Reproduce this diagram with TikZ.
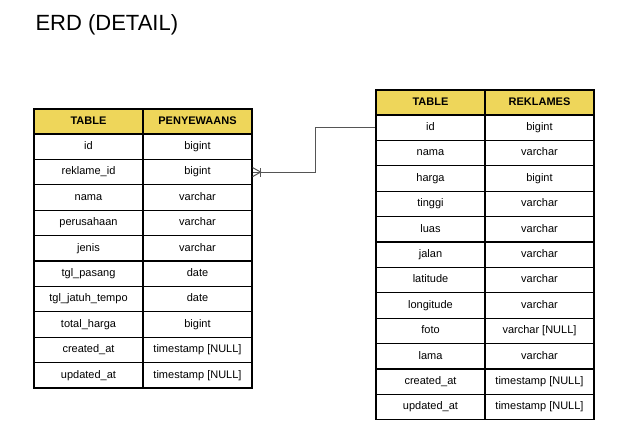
\documentclass[tikz,border=0pt]{standalone}
\usepackage{fontspec}
\setmainfont{Liberation Sans}
\usetikzlibrary{positioning}
\definecolor{headyellow}{RGB}{238,214,90}
\definecolor{linkgray}{RGB}{85,85,85}
\tikzset{
  cell/.style={draw=black, line width=1.3pt, minimum width=109pt, minimum height=25.4pt,
    inner sep=0pt, text height=8pt, text depth=2.5pt, font=\fontsize{11}{13}\selectfont},
  headcell/.style={cell, fill=headyellow, minimum height=25pt,
    font=\fontsize{11}{13}\selectfont\bfseries},
  link/.style={draw=linkgray, line width=1pt}
}
\begin{document}
\begin{tikzpicture}[x=1pt,y=-1pt]
        \useasboundingbox (0,0) rectangle (632,440);
        \node[anchor=west, font=\fontsize{22}{26}\selectfont] (title) at (32,25) {ERD (DETAIL)};
        % table penyewaans
        \node[headcell] (ph a) at (88.5,121.5) {TABLE};
        \node[headcell] (ph b) at (197.5,121.5) {PENYEWAANS};
        \foreach \i/\f/\t in {1/id/bigint, 2/reklame\_id/bigint, 3/nama/varchar,
            4/perusahaan/varchar, 5/jenis/varchar, 6/tgl\_pasang/date,
            7/tgl\_jatuh\_tempo/date, 8/total\_harga/bigint,
            9/created\_at/timestamp [NULL], 10/updated\_at/timestamp [NULL]} {
          \node[cell] (p\i a) at (88.5,{134+(\i-0.5)*25.4}) {\f};
          \node[cell] (p\i b) at (197.5,{134+(\i-0.5)*25.4}) {\t};
        }
        % table reklames
        \node[headcell] (rh a) at (430.5,102.5) {TABLE};
        \node[headcell] (rh b) at (539.5,102.5) {REKLAMES};
        \foreach \i/\f/\t in {1/id/bigint, 2/nama/varchar, 3/harga/bigint,
            4/tinggi/varchar, 5/luas/varchar, 6/jalan/varchar, 7/latitude/varchar,
            8/longitude/varchar, 9/foto/varchar [NULL], 10/lama/varchar,
            11/created\_at/timestamp [NULL], 12/updated\_at/timestamp [NULL]} {
          \node[cell] (r\i a) at (430.5,{115+(\i-0.5)*25.4}) {\f};
          \node[cell] (r\i b) at (539.5,{115+(\i-0.5)*25.4}) {\t};
        }
        % relation reklame_id -> id
        \draw[link] (p2b.east) -- ++(63,0) |- (r1a.west);
        \draw[link] ([yshift=-4.5pt]p2b.east) -- ([xshift=8pt]p2b.east) -- ([yshift=4.5pt]p2b.east);
        \draw[link] ([xshift=8pt,yshift=-4.5pt]p2b.east) -- ([xshift=8pt,yshift=4.5pt]p2b.east);
\end{tikzpicture}
\end{document}
